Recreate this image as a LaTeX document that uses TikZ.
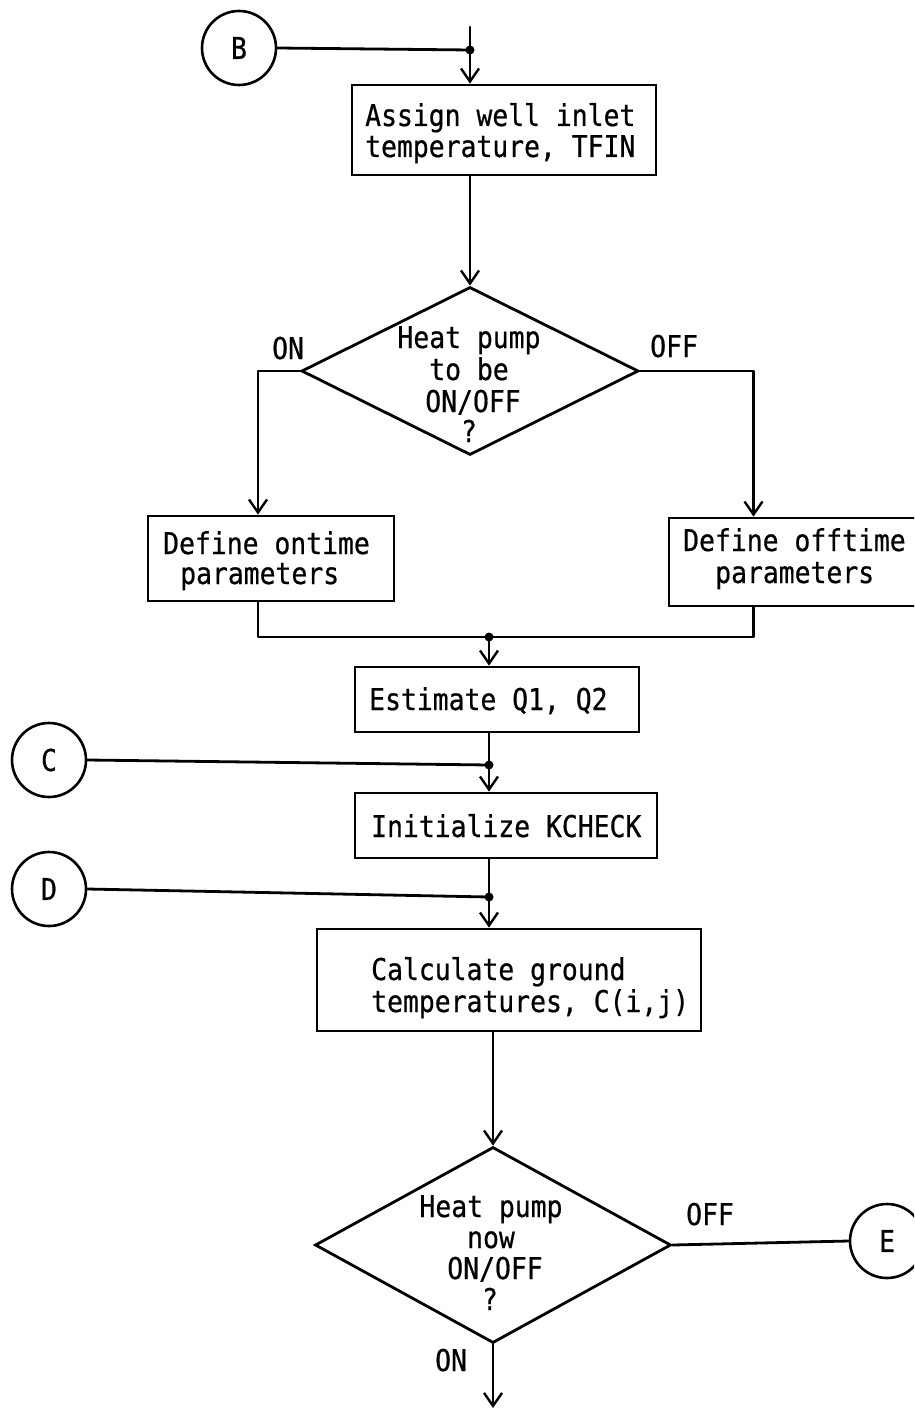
\documentclass[tikz,border=0pt]{standalone}
\usepackage{fontspec}
\usetikzlibrary{shapes.geometric,arrows.meta}
\newfontfamily\flowfont{DejaVu Sans Mono}[FakeStretch=0.88,FakeBold=0.6]

\tikzset{
  every node/.style={font=\flowfont\fontsize{30}{31}\selectfont},
  flow/.style={draw, line width=2.8pt, line cap=round, line join=round},
  arr/.style={flow, -{Straight Barb[length=13pt,width=18pt,line width=2.4pt]}},
  procbox/.style={draw, line width=2.8pt, rectangle, inner sep=0pt},
  decision/.style={draw, line width=2.8pt, diamond, inner sep=0pt},
  onpage/.style={draw, line width=2.6pt, circle, minimum size=74pt, inner sep=0pt},
  txt/.style={inner sep=0pt, anchor=base west},
  ctxt/.style={inner sep=0pt, anchor=base},
  dot/.style={circle, fill, inner sep=0pt, minimum size=9pt},
}

\begin{document}
\begin{tikzpicture}[x=1pt,y=-1pt]
\useasboundingbox (0,0) rectangle (914,1412);
\clip (0,0) rectangle (914,1412);

% on-page connectors
\node[onpage] (B) at (239,48) {B};
\node[onpage] (C) at (49,760) {C};
\node[onpage] (D) at (49,889) {D};
\node[onpage] (E) at (887,1241) {E};

% process boxes
\node[procbox, minimum width=304pt, minimum height=90pt]  (assign)  at (504,130)   {};
\node[procbox, minimum width=246pt, minimum height=85pt]  (ontime)  at (271,558.5) {};
\node[procbox, minimum width=249pt, minimum height=88pt]  (offtime) at (793.5,562) {};
\node[procbox, minimum width=284pt, minimum height=65pt]  (est)     at (497,699.5) {};
\node[procbox, minimum width=302pt, minimum height=65pt]  (init)    at (506,825.5) {};
\node[procbox, minimum width=384pt, minimum height=102pt] (calc)    at (509,980)   {};

% decisions
\node[decision, minimum width=337pt, minimum height=168pt] (d1) at (470,371) {};
\node[decision, minimum width=356pt, minimum height=196pt] (d2) at (493,1245) {};

% box texts
\node[txt] (assignA) at (365,126) {Assign well inlet};
\node[txt] (assignB) at (365,157) {temperature, TFIN};
\node[ctxt] (q1a) at (469,348) {Heat pump};
\node[ctxt] (q1b) at (469,380) {to be};
\node[ctxt] (q1c) at (473,412) {ON/OFF};
\node[ctxt] (q1d) at (469,442) {?};
\node[txt] (ontA) at (163,554) {Define ontime};
\node[txt] (ontB) at (180,584) {parameters};
\node[txt] (offA) at (683,551) {Define offtime};
\node[txt] (offB) at (715,583) {parameters};
\node[txt] (estA) at (369,710) {Estimate Q1, Q2};
\node[txt] (initA) at (371,837) {Initialize KCHECK};
\node[txt] (calcA) at (371,980) {Calculate ground};
\node[txt] (calcB) at (371,1012) {temperatures, C(i,j)};
\node[ctxt] (q2a) at (491,1217) {Heat pump};
\node[ctxt] (q2b) at (491,1248) {now};
\node[ctxt] (q2c) at (495,1279) {ON/OFF};
\node[ctxt] (q2d) at (490,1310) {?};

% branch labels
\node[txt] (onlbl)   at (272,359)  {ON};
\node[txt] (offlbl)  at (650,357)  {OFF};
\node[txt] (offlbl2) at (686,1225) {OFF};
\node[txt] (onlbl2)  at (435,1371) {ON};

% junction points
\coordinate (in) at (470,27);
\coordinate (jB) at (470,50);
\coordinate (jM) at (489,637);
\coordinate (jC) at (489,765);
\coordinate (jD) at (489,897);
\coordinate (bottomrow) at (0,1408);

% connectors
\draw[flow] (B.east) -- (jB);
\draw[arr] (in) -- (in |- assign.north);
\draw[arr] (d1.north |- assign.south) -- (d1.north);
\draw[arr] (d1.west) -| ([xshift=-13pt]ontime.north);
\draw[arr] (d1.east) -| ([xshift=-40pt]offtime.north);
\draw[flow] ([xshift=-13pt]ontime.south) |- (jM);
\draw[flow] ([xshift=-40pt]offtime.south) |- (jM);
\draw[arr] (jM) -- (jM |- est.north);
\draw[arr] (jM |- est.south) -- (jC) -- (jC |- init.north);
\draw[flow] (C.east) -- (jC);
\draw[arr] (jC |- init.south) -- (jD) -- (jD |- calc.north);
\draw[flow] (D.east) -- (jD);
\draw[arr] (d2.north |- calc.south) -- (d2.north);
\draw[flow] (d2.east) -- (E.west);
\draw[arr] (d2.south) -- (d2.south |- bottomrow);

% junction dots
\node[dot] (dotB) at (jB) {};
\node[dot] (dotM) at (jM) {};
\node[dot] (dotC) at (jC) {};
\node[dot] (dotD) at (jD) {};
\end{tikzpicture}
\end{document}
